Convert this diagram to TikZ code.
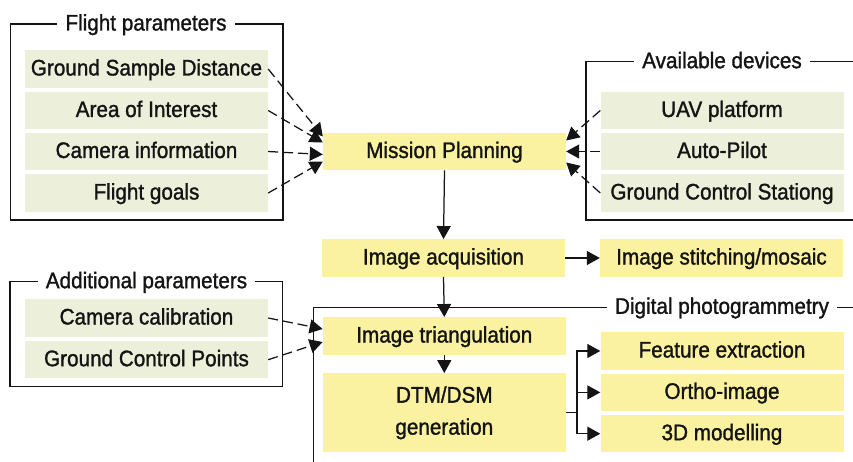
\documentclass[tikz,border=0pt]{standalone}
\usepackage{fontspec}
\setmainfont{Liberation Sans}[FakeStretch=0.92,FakeBold=1.3]
\usetikzlibrary{arrows.meta}
\definecolor{boxyellow}{RGB}{250,242,160}
\definecolor{boxgreen}{RGB}{236,240,218}
\definecolor{ink}{RGB}{20,20,20}

\begin{document}
\begin{tikzpicture}[x=1pt,y=1pt,
  every node/.style={font=\fontsize{22.5}{32}\selectfont, text=ink},
  base/.style={inner sep=0pt, text height=16pt, text depth=3pt},
  ybox/.style={base, fill=boxyellow, minimum width=243pt, minimum height=37.5pt},
  gbox/.style={base, fill=boxgreen, minimum width=243pt, minimum height=37.5pt},
  frame/.style={line width=1.25pt, draw=ink},
  title/.style={base, fill=white, inner xsep=8pt},
  link/.style={line width=1.25pt, draw=ink, -{Triangle[length=13pt,width=14pt]}},
  dlink/.style={link, dash pattern=on 10pt off 5pt},
  plain/.style={line width=1.25pt, draw=ink},
]
\useasboundingbox (0,0) rectangle (853,-462);
\clip (0,0) rectangle (853,-462);

% ---- group frames ----
\draw[frame] (10.5,-24) rectangle (283,-220);
\draw[frame] (870,-61.7) -- (586,-61.7) -- (586,-220) -- (870,-220);
\draw[frame] (10,-281.7) rectangle (282.7,-386.7);
\draw[frame] (870,-307.3) -- (313.3,-307.3) -- (313.3,-480);

\node[title] (tflight) at (146,-24) {Flight parameters};
\node[title] (tdev) at (722,-61.7) {Available devices};
\node[title] (tadd) at (146.5,-281.7) {Additional parameters};
\node[title] (tdig) at (722,-307.3) {Digital photogrammetry};

% ---- flight parameters ----
\node[gbox] (gsd) at (146.5,-69) {Ground Sample Distance};
\node[gbox] (aoi) at (146.5,-110.5) {Area of Interest};
\node[gbox] (cam) at (146.5,-151.5) {Camera information};
\node[gbox] (goal) at (146.5,-193) {Flight goals};

% ---- available devices ----
\node[gbox] (uav) at (722,-110.5) {UAV platform};
\node[gbox] (ap) at (722,-151.5) {Auto-Pilot};
\node[gbox] (gcs) at (722,-193) {Ground Control Stationg};

% ---- additional parameters ----
\node[gbox] (cal) at (146.5,-318) {Camera calibration};
\node[gbox] (gcp) at (146.5,-359.7) {Ground Control Points};

% ---- processing chain ----
\node[ybox] (mp) at (444.5,-151.5) {Mission Planning};
\node[ybox] (acq) at (443.5,-258) {Image acquisition};
\node[ybox] (mos) at (721.5,-258) {Image stitching/mosaic};
\node[ybox] (tri) at (444.3,-336) {Image triangulation};
\node[fill=boxyellow, inner sep=0pt, minimum width=243pt, minimum height=79pt, align=center] (dtm) at (444.3,-412.8) {DTM/DSM\\generation};
\node[ybox] (fe) at (722,-351) {Feature extraction};
\node[ybox] (ortho) at (722,-392.4) {Ortho-image};
\node[ybox] (model) at (722,-433.7) {3D modelling};

% ---- inputs to mission planning ----
\draw[dlink] (gsd.east) -- ([yshift=15pt]mp.west);
\draw[dlink] (aoi.east) -- ([yshift=9pt]mp.west);
\draw[dlink] (cam.east) -- ([yshift=-3pt]mp.west);
\draw[dlink] (goal.east) -- ([yshift=-10pt]mp.west);
\draw[dlink] (uav.west) -- ([yshift=11pt]mp.east);
\draw[dlink] (ap.west) -- (mp.east);
\draw[dlink] (gcs.west) -- ([yshift=-11pt]mp.east);

% ---- main flow ----
\draw[link] (mp.south) -- (acq.north);
\draw[link] (acq.east) -- (mos.west);
\draw[link] (acq.south) -- (tri.north);
\draw[link] (tri.south) -- (dtm.north);
\draw[dlink] (cal.east) -- ([yshift=7pt]tri.west);
\draw[dlink] (gcp.east) -- ([yshift=-6pt]tri.west);

% ---- products ----
\coordinate (br) at (577,-412.8);
\draw[plain] (dtm.east) -- (br);
\draw[link] (br) |- (fe.west);
\draw[link] (br) |- (model.west);
\draw[link] (br |- ortho.west) -- (ortho.west);
\end{tikzpicture}
\end{document}
